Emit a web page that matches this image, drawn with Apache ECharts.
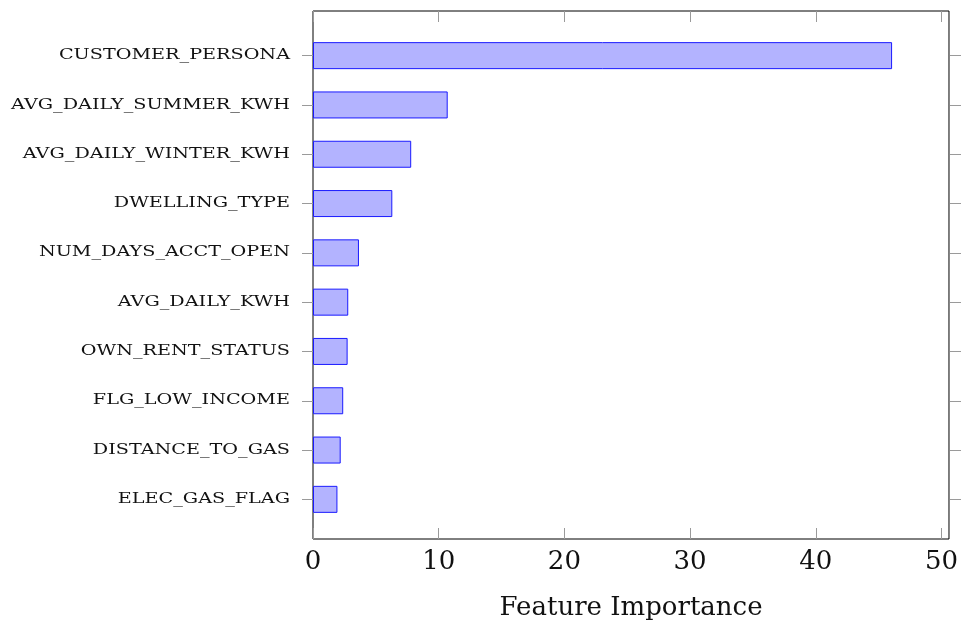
<!DOCTYPE html>
<html>
<head>
<meta charset="utf-8">
<script src="https://cdn.jsdelivr.net/npm/echarts@6/dist/echarts.min.js"></script>
<style>
  html, body { margin: 0; padding: 0; background: #fff; }
  #chart { width: 961px; height: 626px; }
</style>
</head>
<body>
<div id="chart"></div>
<script>
// Feature importance of the model inputs, top to bottom
const categories = [
  'CUSTOMER_PERSONA', 'AVG_DAILY_SUMMER_KWH', 'AVG_DAILY_WINTER_KWH',
  'DWELLING_TYPE', 'NUM_DAYS_ACCT_OPEN', 'AVG_DAILY_KWH',
  'OWN_RENT_STATUS', 'FLG_LOW_INCOME', 'DISTANCE_TO_GAS', 'ELEC_GAS_FLAG'
];
const importance = [46.0, 10.7, 7.8, 6.3, 3.65, 2.8, 2.75, 2.4, 2.2, 1.94];
const xTicks = [0, 10, 20, 30, 40, 50];
const xAxisTitle = 'Feature Importance';

const chart = echarts.init(document.getElementById('chart'), null, { renderer: 'canvas' });

const serif = 'DejaVu Serif';
const xMin = 0, xMax = 50.6;
const tickColor = '#9a9a9a';

const option = {
  animation: false,
  backgroundColor: '#ffffff',
  grid: [
    // outer frame of the plot
    { left: 313, top: 11, width: 637, height: 532, show: true,
      borderColor: '#000', borderWidth: 1, backgroundColor: 'transparent' },
    // inner band area holding the bars
    { left: 313, top: 31, width: 637, height: 493 }
  ],
  xAxis: [
    { gridIndex: 0, type: 'value', min: xMin, max: xMax, interval: 10, position: 'bottom',
      axisLine: { show: false },
      axisTick: { show: true, inside: true, length: 11, lineStyle: { color: tickColor, width: 1 },
        customValues: xTicks },
      axisLabel: { show: true, fontFamily: serif, fontSize: 26, color: '#111', margin: 10,
        customValues: xTicks },
      splitLine: { show: false },
      name: xAxisTitle, nameLocation: 'middle', nameGap: 56,
      nameTextStyle: { fontFamily: serif, fontSize: 26, color: '#111' } },
    { gridIndex: 0, type: 'value', min: xMin, max: xMax, interval: 10, position: 'top',
      axisLine: { show: false },
      axisTick: { show: true, inside: true, length: 11, lineStyle: { color: tickColor, width: 1 },
        customValues: xTicks },
      axisLabel: { show: false }, splitLine: { show: false } },
    { gridIndex: 1, type: 'value', min: xMin, max: xMax, show: false }
  ],
  yAxis: [
    { gridIndex: 0, type: 'value', show: false },
    { gridIndex: 1, type: 'category', data: categories, inverse: true, position: 'left',
      axisLine: { show: false },
      axisTick: { show: true, alignWithLabel: true, length: 11, lineStyle: { color: tickColor, width: 1 } },
      axisLabel: { show: false } },
    { gridIndex: 1, type: 'category', data: categories, inverse: true, position: 'right',
      axisLine: { show: false },
      axisTick: { show: true, alignWithLabel: true, length: 11, lineStyle: { color: tickColor, width: 1 } },
      axisLabel: { show: false } }
  ],
  series: [{
    type: 'bar',
    xAxisIndex: 2,
    yAxisIndex: 1,
    data: importance,
    barWidth: 27,
    itemStyle: { color: '#b3b3ff', borderColor: '#1a1aff', borderWidth: 1 }
  }]
};

chart.setOption(option);

// Category names in wide small-cap style, placed at each band centre of the y axis
const labelFont = '14px "DejaVu Serif"';
const ctx = document.createElement('canvas').getContext('2d');
ctx.font = labelFont;
const widest = Math.max(...categories.map(c => ctx.measureText(c).width));
const stretch = 279 / widest;
const labelRight = chart.convertToPixel({ xAxisIndex: 2 }, xMin) - 23;

chart.setOption({
  graphic: categories.map(c => ({
    type: 'text',
    x: labelRight,
    y: chart.convertToPixel({ yAxisIndex: 1 }, c),
    scaleX: stretch,
    style: {
      text: c,
      font: labelFont,
      fill: '#111',
      align: 'right',
      verticalAlign: 'middle'
    }
  }))
});
</script>
</body>
</html>
